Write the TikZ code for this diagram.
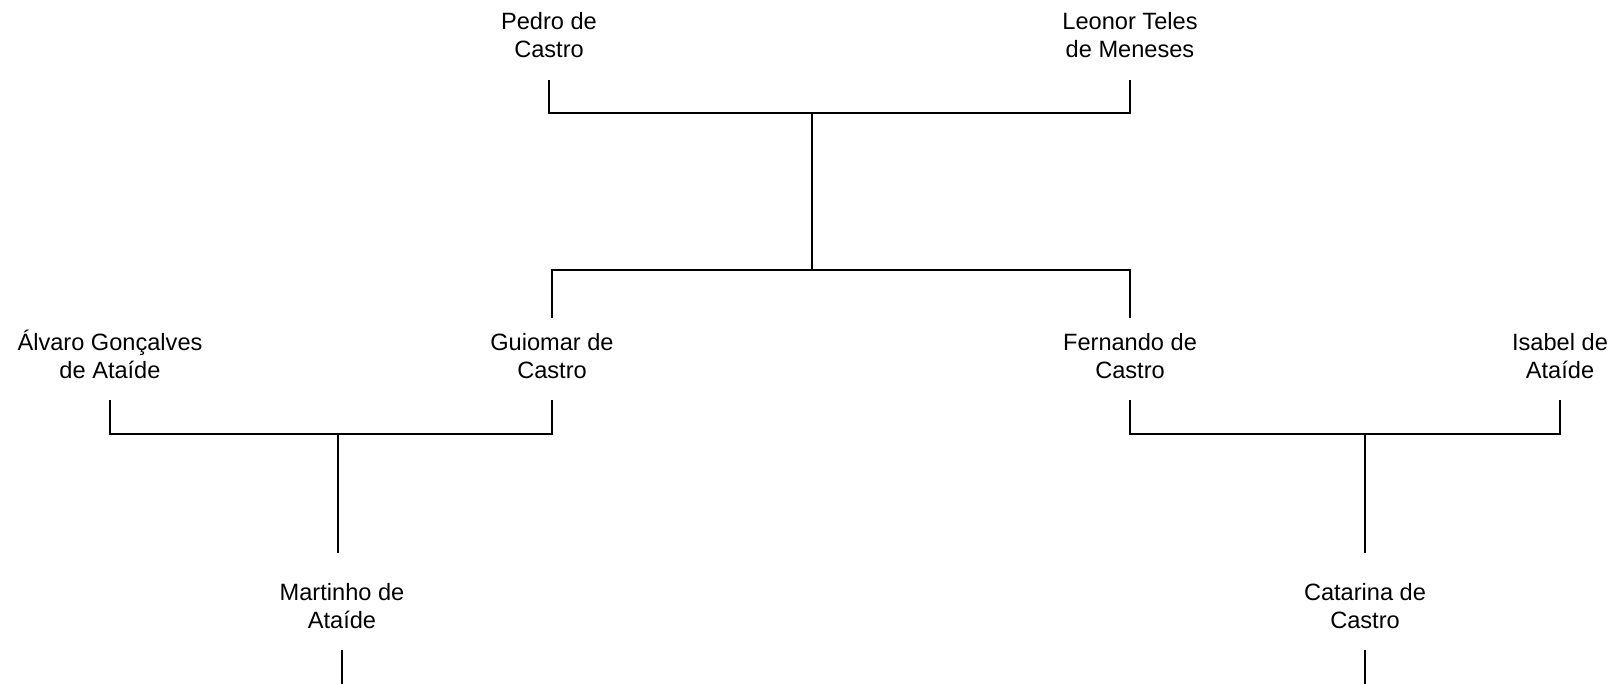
\documentclass[tikz,border=0pt]{standalone}
\usepackage{fontspec}
\setmainfont{Liberation Sans}
\usepackage{tikz}
\usetikzlibrary{positioning, calc}
\tikzstyle{person} = [align=center, inner sep=0pt, text height=30pt, text depth=11pt, font=\fontsize{11.8pt}{14pt}\selectfont]
\tikzstyle{line} = [line width=0.55pt, black]

\begin{document}
\begin{tikzpicture}[x=0.5pt, y=-0.5pt]
  \useasboundingbox (0,0) rectangle (1615,684);

  % Grandparents
  \node (pedro) [person] at (549,39) {Pedro de\\Castro};
  \node (leonor) [person] at (1130,39) {Leonor Teles\\de Meneses};

  % Children and spouses
  \node (alvaro) [person] at (110,359) {Álvaro Gonçalves\\de Ataíde};
  \node (guiomar) [person] at (552,359) {Guiomar de\\Castro};
  \node (fernando) [person] at (1130,359) {Fernando de\\Castro};
  \node (isabel) [person] at (1560,359) {Isabel de\\Ataíde};

  % Grandchildren
  \node (martinho) [person] at (342,609) {Martinho de\\Ataíde};
  \node (catarina) [person] at (1365,609) {Catarina de\\Castro};

  % Junctions
  \coordinate (u1) at (812,113);
  \coordinate (s1) at (812,270);
  \coordinate (u2) at (338,434);
  \coordinate (u3) at (1365,434);
  \coordinate (m-top) at ([yshift=7.5pt]martinho.north);
  \coordinate (c-top) at ([yshift=7.5pt]catarina.north);
  \coordinate (bottom) at (0,684);

  % Lines
  \draw[line] (pedro.south) |- (u1) -| (leonor.south);
  \draw[line] (u1) -- (s1);
  \draw[line] (guiomar.north) |- (s1) -| (fernando.north);
  \draw[line] (alvaro.south) |- (u2) -| (guiomar.south);
  \draw[line] (fernando.south) |- (u3) -| (isabel.south);
  \draw[line] (u2) -- (u2 |- m-top);
  \draw[line] (u3) -- (u3 |- c-top);
  \draw[line] (martinho.south) -- (martinho.south |- bottom);
  \draw[line] (catarina.south) -- (catarina.south |- bottom);
\end{tikzpicture}
\end{document}
